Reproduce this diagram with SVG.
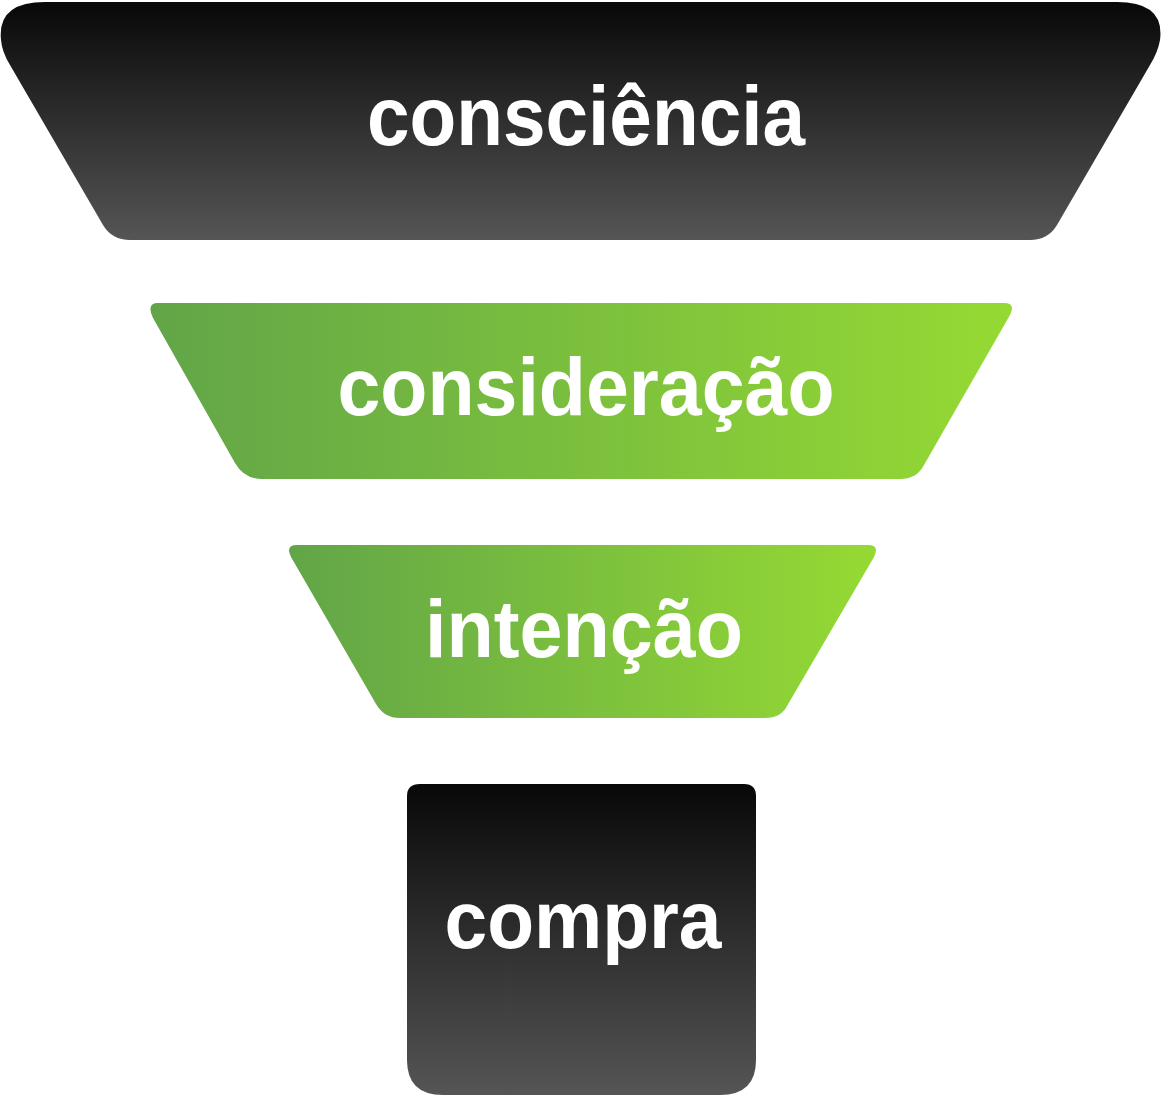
<svg xmlns="http://www.w3.org/2000/svg" width="1161" height="1097" viewBox="0 0 1161 1097">
<defs>
<linearGradient id="dk" x1="0" y1="0" x2="0" y2="1"><stop offset="0" stop-color="#080808"/><stop offset="1" stop-color="#555555"/></linearGradient>
<linearGradient id="gr" x1="0" y1="0" x2="1" y2="0"><stop offset="0" stop-color="#62a548"/><stop offset="1" stop-color="#95da33"/></linearGradient>
</defs>
<style>text{font-family:"Liberation Sans",Arial,sans-serif;font-weight:bold;fill:#fff;text-anchor:middle}</style>
<g id="consciencia">
<path d="M45 2 H1117 Q1165 2 1160 40 Q1158 52 1150 65 L1057 225 Q1048 240 1030 240 H130 Q112 240 103 225 L10 65 Q2 52 1 40 Q-3 2 45 2 Z" fill="url(#dk)"/>
<text x="586" y="145" font-size="84" textLength="438" lengthAdjust="spacingAndGlyphs">consciência</text>
</g>
<g id="consideracao">
<path d="M158 303 H1004 Q1016 303 1010 315 L924 465 Q917 479 900 479 H262 Q244 479 235 463 L153 318 Q146 303 158 303 Z" fill="url(#gr)"/>
<text x="586" y="415" font-size="82" textLength="497" lengthAdjust="spacingAndGlyphs">consideração</text>
</g>
<g id="intencao">
<path d="M297 545 H868 Q880 545 874 557 L787 706 Q781 718 765 718 H400 Q384 718 376 704 L291 557 Q285 545 297 545 Z" fill="url(#gr)"/>
<text x="584" y="657" font-size="82" textLength="318" lengthAdjust="spacingAndGlyphs">intenção</text>
</g>
<g id="compra">
<path d="M420 784 H744 Q756 784 756 796 V1060 Q756 1095 720 1095 H443 Q407 1095 407 1060 V796 Q407 784 420 784 Z" fill="url(#dk)"/>
<text x="583" y="948" font-size="82" textLength="277" lengthAdjust="spacingAndGlyphs">compra</text>
</g>
<g id="connectors"/>
</svg>
